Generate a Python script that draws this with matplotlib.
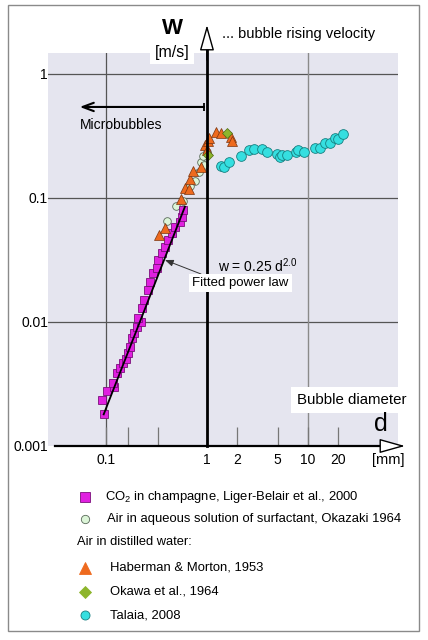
import matplotlib.pyplot as plt
from matplotlib.lines import Line2D
from matplotlib.patches import Rectangle
from matplotlib.ticker import NullFormatter

plt.rcParams['font.family'] = ['Liberation Sans', 'DejaVu Sans']
plt.rcParams['mathtext.default'] = 'regular'

W, H = 428, 640   # figure size in pixels

# d in mm, w in m/s
champ_d = [0.096, 0.091, 0.102, 0.121, 0.118, 0.128, 0.138, 0.148, 0.157, 0.166,
           0.173, 0.180, 0.191, 0.201, 0.222, 0.209, 0.226, 0.239, 0.262, 0.273,
           0.294, 0.318, 0.330, 0.356, 0.384, 0.408, 0.447, 0.482, 0.541, 0.562, 0.582]
champ_w = [0.0018, 0.00235, 0.00278, 0.0030, 0.00324, 0.00385, 0.00423, 0.00465, 0.0050, 0.00559,
           0.00633, 0.0074, 0.00812, 0.00917, 0.0100, 0.0107, 0.0129, 0.0150, 0.0181, 0.0211,
           0.0247, 0.0271, 0.0316, 0.0358, 0.0405, 0.0458, 0.0519, 0.0587, 0.0644, 0.0707, 0.080]

okazaki_d = [0.402, 0.493, 0.578, 0.679, 0.761, 0.833, 0.873, 0.913, 1.0, 0.934]
okazaki_w = [0.0653, 0.0862, 0.0946, 0.125, 0.137, 0.162, 0.195, 0.218, 0.235, 0.185]

haberman_d = [0.335, 0.384, 0.553, 0.606, 0.664, 0.679, 0.727, 0.872, 0.955, 1.0,
              1.023, 1.047, 1.23, 1.38, 1.73, 1.77]
haberman_w = [0.0503, 0.0573, 0.0982, 0.120, 0.118, 0.142, 0.165, 0.178, 0.268, 0.244,
              0.288, 0.305, 0.341, 0.334, 0.310, 0.288]

okawa_d = [1.02, 1.58]
okawa_w = [0.222, 0.334]

talaia_d = [1.38, 1.47, 1.65, 2.17, 2.61, 2.92, 3.50, 3.93, 4.93, 5.28, 5.59,
            6.19, 7.60, 7.96, 9.12, 11.7, 13.1, 14.7, 16.5, 18.5, 19.8, 22.2]
talaia_w = [0.181, 0.178, 0.195, 0.218, 0.244, 0.246, 0.246, 0.233, 0.226, 0.214, 0.224,
            0.222, 0.237, 0.244, 0.237, 0.255, 0.255, 0.278, 0.280, 0.302, 0.299, 0.328]

# fitted power law w = 0.25 d^2.0, ends as drawn
fit_d = [0.095, 0.605]
fit_w = [0.0018, 0.085]

xtick_vals = [0.1, 1, 2, 5, 10, 20]
xtick_labels = ['0.1', '1', '2', '5', '10', '20']
xminor_vals = [0.165, 0.33]
ytick_vals = [0.001, 0.01, 0.1, 1]
ytick_labels = ['0.001', '0.01', '0.1', '1']

legend_rows = [
    ('s', '#e020e0', '#7a107a', 6.5, 497, r'CO$_2$ in champagne, Liger-Belair et al., 2000', 105),
    ('o', '#dcf5d8', '#5a6a5a', 6, 519, 'Air in aqueous solution of surfactant, Okazaki 1964', 107),
    ('^', '#ee6a1e', '#ee6a1e', 8.5, 568, 'Haberman & Morton, 1953', 110),
    ('D', '#8db52c', '#8db52c', 6.5, 592, 'Okawa et al., 1964', 110),
    ('o', '#35dfe0', '#177f80', 6.5, 615, 'Talaia, 2008', 110),
]


def fp(x, y):
    # pixel (from top-left) -> figure fraction
    return x / W, 1 - y / H


fig = plt.figure(figsize=(W / 100, H / 100), dpi=100)
fig.patch.set_facecolor('white')
ax = fig.add_axes([48 / W, 1 - 446 / H, 350 / W, 393 / H])
ax.set_facecolor('#e5e5ef')
ax.set_xscale('log')
ax.set_yscale('log')
ax.set_xlim(0.0267, 77.8)
ax.set_ylim(0.001, 1.476)
for s in ax.spines.values():
    s.set_visible(False)

for yv in [0.01, 0.1, 1]:
    ax.axhline(yv, color='#555555', lw=0.9, zorder=1)
ax.axvline(0.1, color='#555555', lw=0.9, zorder=1)
ax.axvline(10, color='#8a8a8a', lw=1.0, zorder=1)

ax.set_xticks(xtick_vals, xtick_labels)
ax.set_xticks(xminor_vals, minor=True)
ax.xaxis.set_minor_formatter(NullFormatter())
ax.set_yticks(ytick_vals, ytick_labels)
ax.set_yticks([], minor=True)
ax.tick_params(axis='x', which='both', direction='in', length=13.5, width=0.9,
               color='#777777', pad=5, labelsize=10)
ax.tick_params(axis='y', which='both', length=0, pad=0, labelsize=10)

# data
ax.plot(okazaki_d, okazaki_w, 'o', ms=5.5, mfc='#dcf5d8', mec='#5a6a5a', mew=0.6, zorder=3)
ax.plot(champ_d, champ_w, 's', ms=5.5, mfc='#e020e0', mec='#7a107a', mew=0.6, zorder=3)
ax.plot(fit_d, fit_w, color='black', lw=1.3, zorder=4)
ax.plot(haberman_d, haberman_w, '^', ms=7, mfc='#ee6a1e', mec='#7a3510', mew=0.5, zorder=5)
ax.plot(okawa_d, okawa_w, 'D', ms=5, mfc='#8db52c', mec='#4f6b14', mew=0.5, zorder=5)
ax.plot(talaia_d, talaia_w, 'o', ms=7, mfc='#35dfe0', mec='#177f80', mew=0.6, zorder=5)

# vertical axis at d = 1 with open arrow
ax.axvline(1, ymin=0, ymax=(446 - 47) / 393, color='black', lw=2, clip_on=False, zorder=6)
ax.annotate('', xy=(1, H - 25), xytext=(1, H - 60),
            xycoords=('data', 'figure pixels'), textcoords=('data', 'figure pixels'),
            arrowprops=dict(arrowstyle='-|>,head_length=1.6,head_width=0.45',
                            fc='white', ec='black', lw=1, shrinkA=0, shrinkB=0),
            annotation_clip=False, zorder=7)

# horizontal axis with open arrow
ax.axhline(0.001, xmin=(55 - 48) / 350, xmax=(384 - 48) / 350, color='black', lw=1.6,
           clip_on=False, zorder=6)
ax.annotate('', xy=(405, 0.001), xytext=(370, 0.001),
            xycoords=('figure pixels', 'data'), textcoords=('figure pixels', 'data'),
            arrowprops=dict(arrowstyle='-|>,head_length=1.6,head_width=0.45',
                            fc='white', ec='black', lw=1, shrinkA=0, shrinkB=0),
            annotation_clip=False, zorder=7)

# microbubbles arrow
ax.annotate('', xy=(0.055, 0.542), xytext=(0.935, 0.542),
            arrowprops=dict(arrowstyle='->,head_length=0.8,head_width=0.3',
                            color='black', lw=1.5, shrinkA=0, shrinkB=0), zorder=6)
ax.vlines(0.935, 0.50, 0.585, color='black', lw=1.3, zorder=6)
fig.text(*fp(80, 125), 'Microbubbles', fontsize=10, va='center', ha='left')

# fitted power law label
ax.annotate('', xy=(0.384, 0.0316), xytext=(201, H - 274),
            textcoords='figure pixels',
            arrowprops=dict(arrowstyle='-|>,head_length=0.5,head_width=0.2',
                            color='#333333', lw=0.7, shrinkA=0, shrinkB=0), zorder=6)
fig.text(*fp(218, 266), r'w = 0.25 d$^{2.0}$', fontsize=10, va='center', ha='left')
fig.text(*fp(192, 283), 'Fitted power law', fontsize=9.5, va='center', ha='left',
         bbox=dict(fc='white', ec='none', pad=2.5))

# axis titles
fig.text(*fp(172, 28), 'W', fontsize=16, fontweight='bold', ha='center', va='center')
fig.text(*fp(172, 52), '[m/s]', fontsize=11.5, ha='center', va='center',
         bbox=dict(fc='white', ec='none', pad=3))
fig.text(*fp(222, 34), '... bubble rising velocity', fontsize=10.5, ha='left', va='center')
fig.text(*fp(297, 400), 'Bubble diameter', fontsize=10.8, ha='left', va='center',
         bbox=dict(fc='white', ec='none', pad=4))
fig.text(*fp(381, 424), 'd', fontsize=18, ha='center', va='center')
fig.text(*fp(388, 460), '[mm]', fontsize=10.5, ha='center', va='center')

# legend below the chart
for marker, fc, ec, ms, y, label, tx in legend_rows:
    fig.add_artist(Line2D([85 / W], [1 - y / H], transform=fig.transFigure, marker=marker,
                          ms=ms, mfc=fc, mec=ec, mew=0.6, linestyle='none'))
    fig.text(*fp(tx, y), label, fontsize=9.4, ha='left', va='center')
fig.text(*fp(77, 542), 'Air in distilled water:', fontsize=9.3, ha='left', va='center')

# outer frame
fig.add_artist(Rectangle(fp(8, 631), 411 / W, 626 / H, transform=fig.transFigure,
                         fill=False, ec='#8a8a8a', lw=1))

fig.savefig('out.png', dpi=100)
